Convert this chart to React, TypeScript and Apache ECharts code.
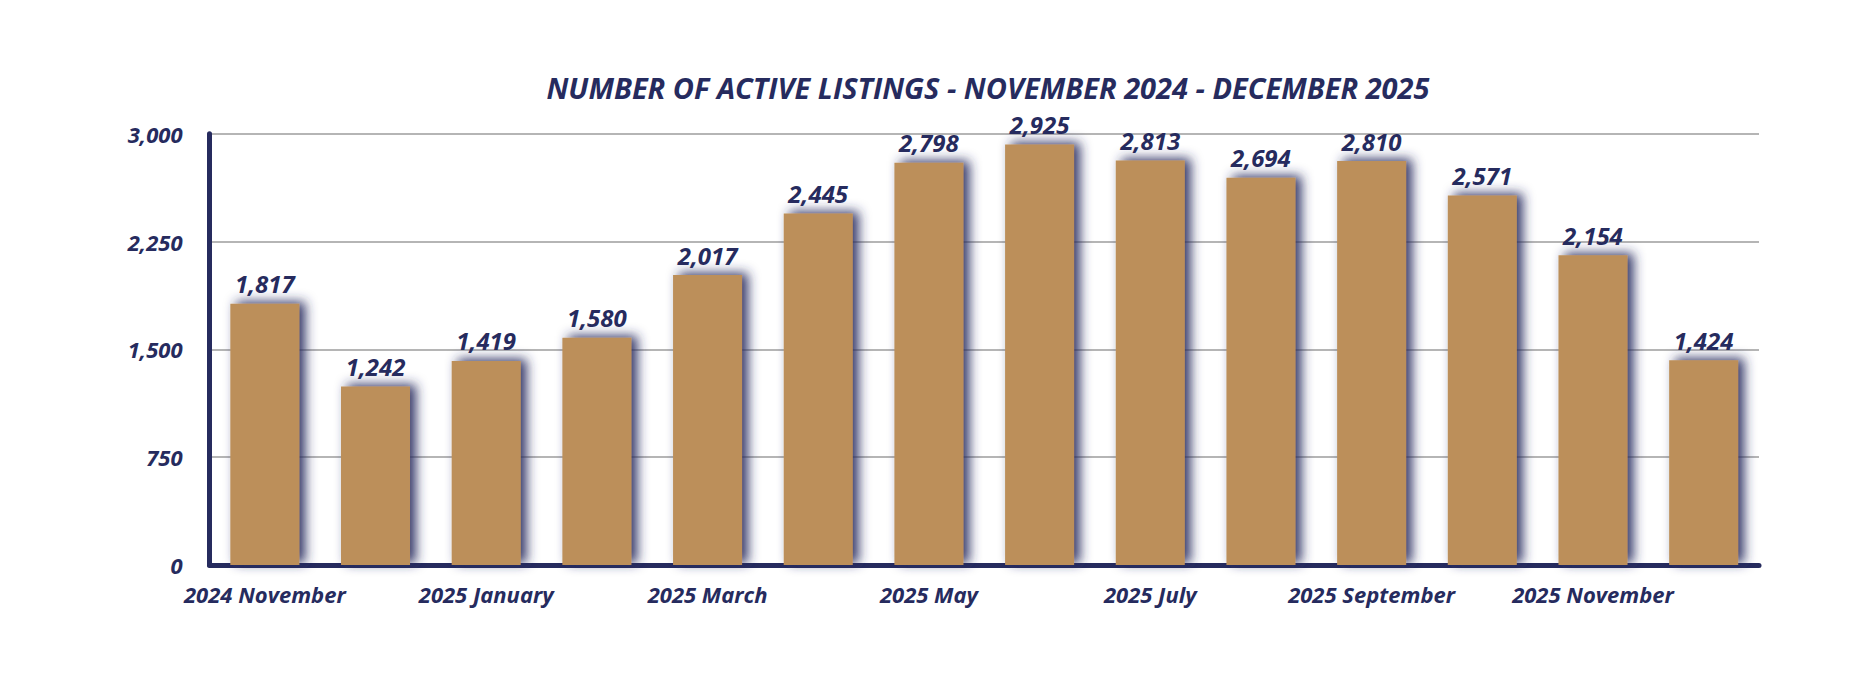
import React, { useRef, useEffect } from 'react';
import * as echarts from 'echarts';

const months = [
  '2024 November', '2024 December', '2025 January', '2025 February',
  '2025 March', '2025 April', '2025 May', '2025 June', '2025 July',
  '2025 August', '2025 September', '2025 October', '2025 November', '2025 December',
];
const listings = [1817, 1242, 1419, 1580, 2017, 2445, 2798, 2925, 2813, 2694, 2810, 2571, 2154, 1424];
const yTicks = { min: 0, max: 3000, interval: 750 };

const NAVY = '#262B5E';
const GOLD = '#BC8F5A';
const FONT = '"Open Sans"';

const fmt = (v: number) => v.toLocaleString('en-US');

const App: React.FC = () => {
  const chartRef = useRef<HTMLDivElement>(null);

  useEffect(() => {
    document.body.style.margin = '0';
    if (!chartRef.current) return;
    const chart = echarts.init(chartRef.current, null, { renderer: 'svg' });

    const option = {
      animation: false,
      backgroundColor: '#fff',
      title: {
        text: 'NUMBER OF ACTIVE LISTINGS - NOVEMBER 2024 - DECEMBER 2025',
        left: 983,
        top: 68,
        textAlign: 'center',
        textStyle: {
          color: NAVY, fontFamily: FONT, fontSize: 29, fontWeight: 'bold', fontStyle: 'italic',
        },
      },
      grid: { left: 209.5, right: 95, top: 133.7, bottom: 125, containLabel: false },
      xAxis: {
        type: 'category',
        data: months,
        axisLine: { lineStyle: { color: NAVY, width: 5 } },
        axisTick: { show: false },
        axisLabel: {
          interval: 1,
          margin: 18,
          color: NAVY, fontFamily: FONT, fontSize: 22, fontWeight: 'bold', fontStyle: 'italic',
        },
      },
      yAxis: {
        type: 'value',
        min: yTicks.min,
        max: yTicks.max,
        interval: yTicks.interval,
        axisLine: { show: true, lineStyle: { color: NAVY, width: 5 } },
        axisTick: { show: false },
        splitLine: { lineStyle: { color: '#B5B5B5', width: 2 } },
        axisLabel: {
          margin: 27,
          formatter: fmt,
          color: NAVY, fontFamily: FONT, fontSize: 22, fontWeight: 'bold', fontStyle: 'italic',
        },
      },
      series: [
        {
          type: 'bar',
          data: listings,
          barWidth: 69,
          itemStyle: {
            color: GOLD,
            shadowColor: 'rgba(38,43,94,0.95)',
            shadowBlur: 12,
            shadowOffsetX: 6,
            shadowOffsetY: -2,
          },
          label: {
            show: true,
            position: 'top',
            distance: 8,
            formatter: (p: any) => fmt(p.value),
            color: NAVY, fontFamily: FONT, fontSize: 24, fontWeight: 'bold', fontStyle: 'italic',
          },
        },
      ],
    };
    chart.setOption(option);

    const resize = () => chart.resize();
    window.addEventListener('resize', resize);
    return () => {
      window.removeEventListener('resize', resize);
      chart.dispose();
    };
  }, []);

  return <div ref={chartRef} style={{ width: 1854, height: 690 }} />;
};

export default App;
